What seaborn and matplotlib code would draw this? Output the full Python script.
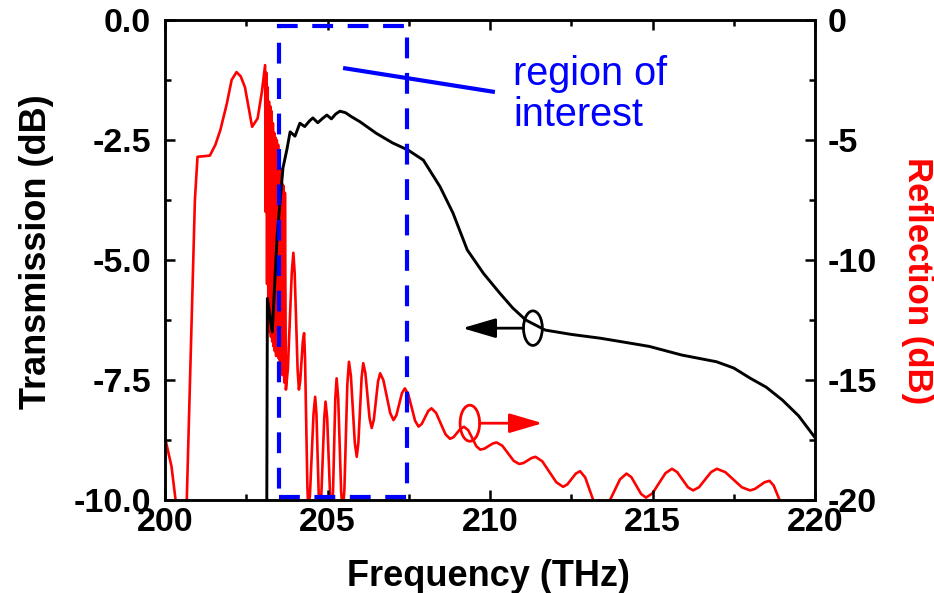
import matplotlib
matplotlib.use("Agg")
import matplotlib.pyplot as plt
import seaborn as sns
import pandas as pd
from matplotlib.patches import Rectangle, Ellipse
from matplotlib.ticker import MultipleLocator

# ---- data ----
trans_freq = [203.13, 203.15, 203.3, 203.45, 203.63, 203.75, 203.85, 204.0, 204.15, 204.3,
              204.45, 204.55, 204.7, 204.85, 204.98, 205.12, 205.25, 205.38, 205.55, 205.75,
              206.0, 206.5, 207.0, 207.48, 207.95, 208.46, 208.86, 209.3, 209.8, 210.3,
              210.7, 211.1, 211.7, 212.5, 213.4, 214.2, 214.9, 215.9, 216.97, 217.5,
              218.0, 218.5, 219.0, 219.5, 220.0]
trans_db = [-10.5, -5.8, -6.5, -4.5, -3.08, -2.7, -2.33, -2.42, -2.15, -2.22,
            -2.1, -2.04, -2.14, -2.05, -1.98, -2.06, -1.96, -1.9, -1.93, -2.02,
            -2.12, -2.36, -2.56, -2.71, -2.92, -3.47, -4.02, -4.79, -5.28, -5.69,
            -6.0, -6.25, -6.46, -6.55, -6.63, -6.72, -6.8, -6.98, -7.12, -7.25,
            -7.46, -7.65, -7.92, -8.25, -8.7]

refl_freq = [200.0, 200.2, 200.37, 200.66, 200.92, 201.0, 201.38, 201.55, 201.7, 201.9,
             202.05, 202.2, 202.33, 202.46, 202.68, 202.85, 202.98,
             203.08, 203.10, 203.12, 203.14, 203.16, 203.18, 203.20, 203.22, 203.24, 203.26,
             203.28, 203.30, 203.32, 203.34, 203.36, 203.38, 203.40, 203.42, 203.44, 203.46,
             203.48, 203.50, 203.52, 203.54, 203.56, 203.58, 203.60, 203.62, 203.64, 203.67,
             203.69, 203.72,
             203.78, 203.90, 203.95, 203.99, 204.08, 204.12, 204.16, 204.24, 204.28, 204.31,
             204.38, 204.41, 204.46, 204.57, 204.62, 204.66, 204.73, 204.77, 204.81, 204.90,
             204.94, 204.99, 205.08, 205.13, 205.17, 205.24, 205.28, 205.33, 205.42, 205.47,
             205.52, 205.61, 205.66, 205.72, 205.84, 205.90, 205.95, 206.05, 206.10, 206.165,
             206.295, 206.36, 206.425, 206.555, 206.62, 206.72, 206.93, 207.03, 207.12, 207.29,
             207.38, 207.485, 207.695, 207.80, 207.90, 208.10, 208.20, 208.34, 208.63, 208.77,
             208.88, 209.09, 209.20, 209.33, 209.58, 209.70, 209.83, 210.08, 210.20, 210.38,
             210.73, 210.90, 211.03, 211.28, 211.40, 211.61, 212.04, 212.25, 212.38, 212.64,
             212.77, 212.93, 213.24, 213.40, 213.60, 214.00, 214.20, 214.35, 214.65, 214.80,
             215.00, 215.40, 215.60, 215.76, 216.09, 216.25, 216.43, 216.80, 216.98, 217.24,
             217.75, 218.00, 218.15, 218.45, 218.60, 218.73, 218.97, 219.10]
refl_db = [-17.4, -18.6, -20.5, -20.5, -7.5, -5.7, -5.65, -5.2, -4.6, -3.5,
           -2.5, -2.17, -2.35, -2.8, -4.45, -4.1, -3.0,
           -1.88, -8.0, -2.2, -11.0, -2.8, -12.5, -3.4, -13.0, -3.6, -13.2,
           -3.8, -13.4, -4.3, -13.6, -4.7, -13.8, -4.9, -14.0, -5.0, -14.0,
           -5.2, -14.1, -5.6, -14.3, -6.2, -14.5, -6.8, -14.8, -6.9, -15.1,
           -7.2, -15.4,
           -14.55, -10.55, -9.7, -10.55, -14.55, -15.4, -15.05, -13.4, -13.05, -14.17,
           -19.38, -20.5, -19.78, -16.42, -15.7, -16.42, -19.78, -20.5, -19.81, -16.59,
           -15.9, -16.59, -19.81, -20.5, -19.66, -15.77, -14.93, -15.77, -19.66, -20.5,
           -19.56, -15.18, -14.24, -14.83, -17.61, -18.2, -17.62, -14.89, -14.3, -14.71,
           -16.6, -17.0, -16.66, -15.06, -14.72, -15.01, -16.38, -16.67, -16.47, -15.55,
           -15.35, -15.59, -16.7, -16.94, -16.83, -16.29, -16.18, -16.37, -17.26, -17.45,
           -17.38, -17.03, -16.95, -17.09, -17.76, -17.9, -17.86, -17.65, -17.6, -17.74,
           -18.37, -18.5, -18.46, -18.25, -18.2, -18.39, -19.26, -19.45, -19.35, -18.9,
           -18.8, -19.06, -20.25, -20.5, -20.26, -19.14, -18.9, -19.05, -19.75, -19.9,
           -19.72, -18.88, -18.7, -18.84, -19.47, -19.6, -19.47, -18.84, -18.7, -18.84,
           -19.47, -19.6, -19.54, -19.26, -19.2, -19.4, -20.2, -20.5]

x_ticks = [200, 205, 210, 215, 220]
t_ticks = [0.0, -2.5, -5.0, -7.5, -10.0]
r_ticks = [0, -5, -10, -15, -20]

roi_freq = [203.5, 207.45]
roi_trans = [-9.93, -0.12]

trans_df = pd.DataFrame({"freq": trans_freq, "db": trans_db})
refl_df = pd.DataFrame({"freq": refl_freq, "db": refl_db})

# ---- style ----
sns.set_theme(style="ticks")
plt.rcParams["font.family"] = ["Liberation Sans", "DejaVu Sans"]
plt.rcParams["font.weight"] = "bold"
plt.rcParams["text.color"] = "black"
plt.rcParams["axes.labelcolor"] = "black"
plt.rcParams["xtick.color"] = "black"
plt.rcParams["ytick.color"] = "black"
plt.rcParams["axes.edgecolor"] = "black"

fig = plt.figure(figsize=(9.34, 5.93), dpi=100)
ax = fig.add_axes([165/934, 1-500/593, 650/934, 480/593])
ax2 = ax.twinx()
ax.set_zorder(ax2.get_zorder() + 1)
ax.patch.set_visible(False)

sns.lineplot(data=refl_df, x="freq", y="db", ax=ax2, color="#ff0000", linewidth=1.9,
             sort=False, estimator=None)
sns.lineplot(data=trans_df, x="freq", y="db", ax=ax, color="black", linewidth=2.1,
             sort=False, estimator=None)

ax.set_xlim(200, 220)
ax.set_ylim(-10, 0)
ax2.set_ylim(-20, 0)

ax.set_xticks(x_ticks)
ax.set_xticklabels([str(v) for v in x_ticks])
ax.set_yticks(t_ticks)
ax.set_yticklabels([f"{v:.1f}" for v in t_ticks])
ax2.set_yticks(r_ticks)
ax2.set_yticklabels([str(v) for v in r_ticks])
ax.xaxis.set_minor_locator(MultipleLocator(2.5))
ax.yaxis.set_minor_locator(MultipleLocator(1.25))
ax2.yaxis.set_minor_locator(MultipleLocator(2.5))

for a in (ax, ax2):
    for s in a.spines.values():
        s.set_linewidth(1.8)
        s.set_color("black")
        s.set_visible(True)

tick_font = 24.5
ax.tick_params(axis="both", which="major", direction="in", length=7, width=1.8,
               labelsize=tick_font, top=True, right=False, colors="black")
ax.tick_params(axis="both", which="minor", direction="in", length=4, width=1.8,
               top=True, right=False, colors="black")
ax.tick_params(axis="y", which="major", pad=10)
ax.tick_params(axis="x", which="major", pad=5)
ax2.tick_params(axis="y", which="major", direction="in", length=7, width=1.8,
                labelsize=tick_font, left=False, right=True, pad=9, colors="black")
ax2.tick_params(axis="y", which="minor", direction="in", length=4, width=1.8,
                left=False, right=True, colors="black")
for lab in ax.get_xticklabels() + ax.get_yticklabels() + ax2.get_yticklabels():
    lab.set_fontweight("bold")

ax.set_xlabel("Frequency (THz)", fontsize=26, fontweight="bold", color="black")
ax.set_ylabel("Transmission (dB)", fontsize=26, fontweight="bold", color="black")
ax2.set_ylabel("Reflection (dB)", fontsize=25, fontweight="bold", color="#ff0000",
               rotation=270, va="center", ha="center")
ax.xaxis.set_label_coords(0.497, -0.122)
ax.yaxis.set_label_coords(-0.17, 0.517)
ax2.yaxis.set_label_coords(1.157, 0.458)

# region of interest box
ax.add_patch(Rectangle((roi_freq[0], roi_trans[0]), roi_freq[1]-roi_freq[0],
                       roi_trans[1]-roi_trans[0], fill=False, edgecolor="#0000ff",
                       linewidth=3.0, linestyle=(0, (5, 3.5)), zorder=10))
ax.plot([205.48, 210.15], [-1.0, -1.5], color="#0000ff", linewidth=3.0, zorder=10,
        solid_capstyle="butt")
ax.text(210.71, -0.72, "region of\ninterest", color="#0000ff", fontsize=28.5,
        fontweight="normal", ha="left", va="top", linespacing=1.12, zorder=10)

# ellipse + arrow markers
ax.add_patch(Ellipse((211.32, -6.42), 0.58, 0.72, fill=False, edgecolor="black",
                     linewidth=2.0, zorder=11))
ax.annotate("", xy=(209.15, -6.42), xytext=(211.03, -6.42),
            arrowprops=dict(arrowstyle="-|>,head_length=1.7,head_width=0.5",
                            color="black", lw=2.0, shrinkA=0, shrinkB=0), zorder=11)
ax.add_patch(Ellipse((209.38, -8.40), 0.6, 0.75, fill=False, edgecolor="#ff0000",
                     linewidth=2.0, zorder=11))
ax.annotate("", xy=(211.62, -8.40), xytext=(209.68, -8.40),
            arrowprops=dict(arrowstyle="-|>,head_length=1.7,head_width=0.5",
                            color="#ff0000", lw=2.0, shrinkA=0, shrinkB=0), zorder=11)

fig.savefig("out.png", dpi=100)
